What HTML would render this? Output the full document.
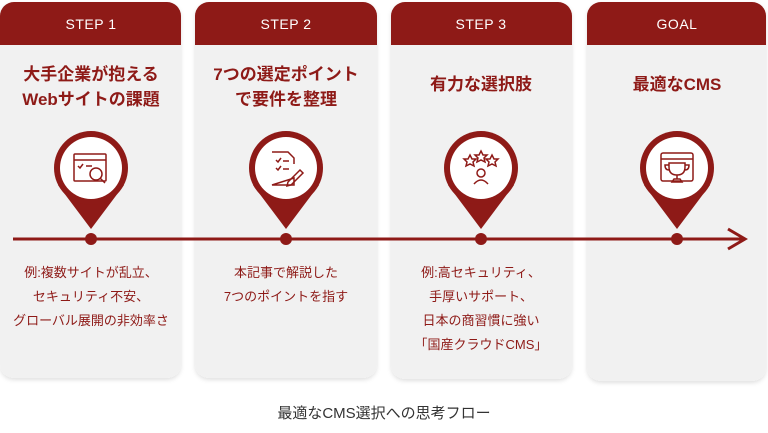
<!DOCTYPE html>
<html><head><meta charset="utf-8"><style>
html,body{margin:0;padding:0;background:#fff;}
svg{display:block;font-family:"Liberation Sans","Noto Sans CJK JP",sans-serif;}
</style></head><body>
<svg width="768" height="433" viewBox="0 0 768 433" xmlns="http://www.w3.org/2000/svg">
<defs>
<filter id="sh" x="-10%" y="-10%" width="120%" height="120%"><feDropShadow dx="0" dy="2" stdDeviation="2" flood-color="#000" flood-opacity="0.12"/></filter>
<clipPath id="c1"><rect x="0" y="2" width="181" height="376" rx="14"/></clipPath>
<clipPath id="c2"><rect x="195" y="2" width="182" height="376" rx="14"/></clipPath>
<clipPath id="c3"><rect x="391" y="2" width="181" height="377" rx="14"/></clipPath>
<clipPath id="c4"><rect x="587" y="2" width="179" height="379" rx="14"/></clipPath>
</defs>
<g filter="url(#sh)">
<rect x="0" y="2" width="181" height="376" rx="14" fill="#f1f1f1"/>
<rect x="195" y="2" width="182" height="376" rx="14" fill="#f1f1f1"/>
<rect x="391" y="2" width="181" height="377" rx="14" fill="#f1f1f1"/>
<rect x="587" y="2" width="179" height="379" rx="14" fill="#f1f1f1"/>
</g>
<rect x="0" y="0" width="181" height="45" fill="#8e1a17" clip-path="url(#c1)"/>
<rect x="195" y="0" width="182" height="45" fill="#8e1a17" clip-path="url(#c2)"/>
<rect x="391" y="0" width="181" height="45" fill="#8e1a17" clip-path="url(#c3)"/>
<rect x="587" y="0" width="179" height="45" fill="#8e1a17" clip-path="url(#c4)"/>
<g fill="#fff" font-size="14" text-anchor="middle" letter-spacing="0.5">
<text x="91" y="29">STEP 1</text><text x="286" y="29">STEP 2</text><text x="481" y="29">STEP 3</text><text x="677" y="29">GOAL</text>
</g>
<g fill="#8e1a17" font-size="17" font-weight="bold" text-anchor="middle">
<text x="91" y="80">大手企業が抱える</text><text x="91" y="105">Webサイトの課題</text>
<text x="286" y="80">7つの選定ポイント</text><text x="286" y="105">で要件を整理</text>
<text x="481" y="90">有力な選択肢</text>
<text x="677" y="90">最適なCMS</text>
</g>
<line x1="13" y1="239" x2="744" y2="239" stroke="#8e1a17" stroke-width="3"/>
<polyline points="728,229 745,239 728,249" fill="none" stroke="#8e1a17" stroke-width="3"/>
<g fill="#8e1a17">
<g transform="translate(91,0)"><path d="M-33,185 L0,229 L33,185 Z"/><circle cx="0" cy="168" r="37"/><circle cx="0" cy="168" r="31" fill="#fff"/><circle cx="0" cy="239" r="6"/></g>
<g transform="translate(286,0)"><path d="M-33,185 L0,229 L33,185 Z"/><circle cx="0" cy="168" r="37"/><circle cx="0" cy="168" r="31" fill="#fff"/><circle cx="0" cy="239" r="6"/></g>
<g transform="translate(481,0)"><path d="M-33,185 L0,229 L33,185 Z"/><circle cx="0" cy="168" r="37"/><circle cx="0" cy="168" r="31" fill="#fff"/><circle cx="0" cy="239" r="6"/></g>
<g transform="translate(677,0)"><path d="M-33,185 L0,229 L33,185 Z"/><circle cx="0" cy="168" r="37"/><circle cx="0" cy="168" r="31" fill="#fff"/><circle cx="0" cy="239" r="6"/></g>
</g>
<g fill="none" stroke="#8e1a17" stroke-width="1.5">
<g transform="translate(91,168)"><rect x="-17" y="-14" width="32" height="27" rx="1"/><line x1="-17" y1="-8" x2="15" y2="-8"/><path d="M-13,-2 l2,2 l3,-4 M-5,-2 h6"/><circle cx="5" cy="6" r="6" fill="#fff"/><line x1="9" y1="10" x2="14" y2="15"/></g>
<g transform="translate(286,168)"><path d="M-14,-16 h16 l6,6 v6 M8,10 v7 h-22 z"/><path d="M-10,-8 l2,2 l3,-4 M-3,-7 h6 M-10,0 l2,2 l3,-4 M-3,1 h6"/><path d="M2,14 l12,-12 l3,3 l-12,12 l-4,1 z"/></g>
<g transform="translate(481,168)"><path d="M-11,-13 l2,4 4,0 -3,3 1,4 -4,-2 -4,2 1,-4 -3,-3 4,0z M0,-17 l2,4 4,0 -3,3 1,4 -4,-2 -4,2 1,-4 -3,-3 4,0z M11,-13 l2,4 4,0 -3,3 1,4 -4,-2 -4,2 1,-4 -3,-3 4,0z"/><circle cx="0" cy="5" r="4"/><path d="M-7,16 q7,-8 14,0"/></g>
<g transform="translate(677,168)"><rect x="-16" y="-15" width="32" height="28" rx="2"/><line x1="-16" y1="-9" x2="16" y2="-9"/><path d="M-8,-5 h16 v4 q0,8 -8,8 q-8,0 -8,-8 z M-8,-3 h-4 q0,5 4,5 M8,-3 h4 q0,5 -4,5 M0,7 v4 M-5,14 h10 l-2,-3 h-6 z"/></g>
</g>
<g fill="#8e1a17" font-size="13" text-anchor="middle">
<text x="91" y="277">例:複数サイトが乱立、</text><text x="91" y="301">セキュリティ不安、</text><text x="91" y="325">グローバル展開の非効率さ</text>
<text x="286" y="277">本記事で解説した</text><text x="286" y="301">7つのポイントを指す</text>
<text x="481" y="277">例:高セキュリティ、</text><text x="481" y="301">手厚いサポート、</text><text x="481" y="325">日本の商習慣に強い</text><text x="481" y="349">「国産クラウドCMS」</text>
</g>
<text x="384" y="418" font-size="15" fill="#333" text-anchor="middle">最適なCMS選択への思考フロー</text>
</svg>
</body></html>
